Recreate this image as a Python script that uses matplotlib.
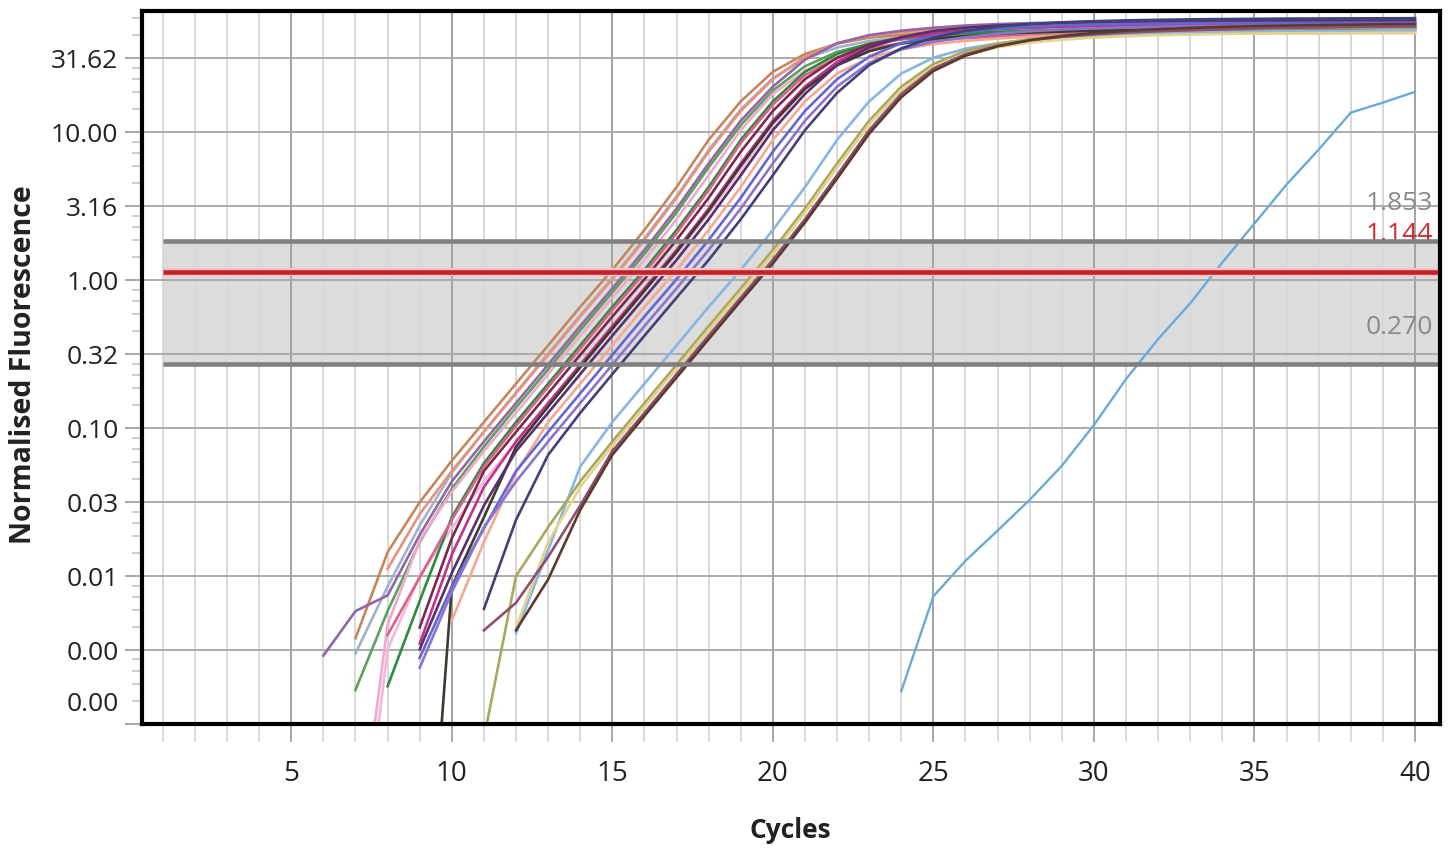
import numpy as np
import matplotlib
matplotlib.use("Agg")
import matplotlib.pyplot as plt
from matplotlib.ticker import FixedLocator, FuncFormatter

plt.rcParams['font.family'] = ['Open Sans', 'DejaVu Sans']

# ---- thresholds -----------------------------------------------------------
threshold = 1.144
band_low = 0.270
band_high = 1.853

# ---- normalised fluorescence per well: (first cycle, value per cycle) ------
well_01 = (7, [0.0038, 0.0145, 0.0316, 0.0603, 0.110, 0.200, 0.363, 0.661, 1.175, 2.19,
               4.27, 8.9, 16.2, 25.7, 33.9, 39.8, 43.7, 45.7, 47.9, 49.0, 50.1, 50.8,
               51.3, 51.7, 52.0, 52.3, 52.5, 52.7, 52.9, 53.0, 53.2, 53.3, 53.4, 53.5])
well_02 = (8, [0.0112, 0.0263, 0.0513, 0.0944, 0.172, 0.313, 0.569, 1.017, 1.873, 3.61,
               7.41, 13.96, 22.9, 32.5, 40.1, 44.8, 47.5, 49.7, 51.1, 52.3, 53.2, 53.8,
               54.3, 54.6, 54.9, 55.1, 55.3, 55.5, 55.6, 55.8, 55.9, 56.0, 56.1])
well_03 = (6, [0.0029, 0.0058, 0.0074, 0.019, 0.0437, 0.0813, 0.148, 0.269, 0.490, 0.881,
               1.603, 3.055, 6.17, 12.0, 20.4, 31.0, 40.0, 45.5, 48.7, 51.0, 52.8, 54.0,
               54.8, 55.4, 55.9, 56.3, 56.6, 56.9, 57.1, 57.3, 57.5, 57.6, 57.8, 57.9, 58.0])
well_04 = (7, [0.0017, 0.0058, 0.017, 0.039, 0.075, 0.138, 0.25, 0.46, 0.83, 1.51,
               2.87, 5.8, 11.2, 19.2, 28.0, 35.0, 39.7, 42.5, 44.3, 45.7, 46.8, 47.7,
               48.4, 49.0, 49.5, 49.9, 50.3, 50.6, 50.9, 51.2, 51.4, 51.6, 51.8, 52.0])
well_05 = (7, [0.0001, 0.0047, 0.0174, 0.0372, 0.070, 0.127, 0.232, 0.422, 0.763, 1.372,
               2.585, 5.13, 10.35, 18.2, 26.1, 31.8, 36.6, 39.8, 41.6, 43.3, 44.4, 45.0,
               45.4, 45.7, 46.0, 46.2, 46.4, 46.5, 46.6, 46.7, 46.8, 46.9, 47.0, 47.0])
well_06 = (8, [0.0018, 0.0068, 0.025, 0.058, 0.110, 0.200, 0.363, 0.661, 1.175, 2.19,
               4.27, 8.9, 16.2, 25.7, 33.9, 39.8, 43.7, 45.7, 47.0, 47.9, 48.6, 49.1,
               49.5, 49.8, 50.1, 50.3, 50.5, 50.6, 50.7, 50.8, 50.9, 51.0, 51.0])
well_07 = (8, [0.0040, 0.0098, 0.024, 0.055, 0.104, 0.190, 0.345, 0.63, 1.12, 2.08,
               4.06, 8.5, 15.4, 24.4, 31.8, 36.8, 40.1, 42.0, 43.4, 44.4, 45.2, 45.9,
               46.5, 47.0, 47.4, 47.7, 48.0, 48.3, 48.5, 48.7, 48.8, 48.9, 49.0])
well_08 = (9, [0.0045, 0.018, 0.0513, 0.0944, 0.172, 0.313, 0.569, 1.017, 1.873, 3.61,
               7.41, 13.96, 22.9, 32.0, 39.1, 43.8, 46.6, 48.7, 50.3, 51.4, 52.2, 52.8,
               53.3, 53.7, 54.0, 54.3, 54.5, 54.7, 54.8, 54.9, 55.0, 55.0])
well_09 = (9, [0.0035, 0.014, 0.040, 0.0813, 0.148, 0.269, 0.490, 0.881, 1.603, 3.055,
               6.17, 12.0, 20.4, 30.0, 37.8, 43.2, 46.4, 48.5, 50.2, 51.3, 52.0, 52.5,
               52.9, 53.2, 53.4, 53.6, 53.7, 53.8, 53.9, 54.0, 54.0, 54.1])
well_10 = (9, [0.00001, 0.0085, 0.025, 0.075, 0.140, 0.258, 0.470, 0.85, 1.55, 2.95,
               5.95, 11.6, 19.7, 28.4, 35.4, 40.0, 42.9, 44.8, 46.3, 47.3, 48.0, 48.6,
               49.0, 49.3, 49.6, 49.8, 49.9, 50.0, 50.1, 50.2, 50.2, 50.3])
well_11 = (9, [0.0032, 0.0105, 0.030, 0.070, 0.127, 0.232, 0.422, 0.763, 1.372, 2.585,
               5.13, 10.35, 18.2, 28.6, 37.6, 44.0, 48.5, 51.0, 52.8, 54.0, 54.8, 55.4,
               55.9, 56.2, 56.5, 56.7, 56.8, 56.9, 57.0, 57.0, 57.1, 57.1])
well_12 = (10, [0.0050, 0.017, 0.050, 0.110, 0.200, 0.363, 0.661, 1.175, 2.19, 4.27,
                8.9, 16.2, 25.0, 31.9, 36.5, 39.6, 41.6, 43.1, 44.3, 45.2, 45.9, 46.4,
                46.8, 47.1, 47.4, 47.6, 47.7, 47.8, 47.9, 48.0, 48.0])
well_13 = (9, [0.0028, 0.0085, 0.021, 0.0513, 0.0944, 0.172, 0.313, 0.569, 1.017, 1.873,
               3.61, 7.41, 13.96, 22.9, 32.5, 40.1, 44.8, 47.8, 50.2, 51.8, 52.9, 53.6,
               54.1, 54.4, 54.6, 54.8, 54.9, 55.0, 55.0, 55.1, 55.1, 55.2])
well_14 = (9, [0.0024, 0.0078, 0.0214, 0.0437, 0.0813, 0.148, 0.269, 0.490, 0.881, 1.603,
               3.055, 6.17, 12.0, 20.4, 29.5, 36.4, 41.0, 44.0, 46.5, 48.3, 49.6, 50.5,
               51.2, 51.7, 52.1, 52.4, 52.6, 52.8, 52.9, 53.0, 53.0, 53.1])
well_15 = (11, [0.0060, 0.024, 0.066, 0.127, 0.232, 0.422, 0.763, 1.372, 2.585, 5.13,
                10.35, 18.5, 28.5, 37.0, 43.8, 48.5, 51.8, 54.0, 55.5, 56.5, 57.2, 57.7,
                58.1, 58.4, 58.6, 58.8, 58.9, 59.0, 59.1, 59.2])
well_16 = (12, [0.0041, 0.0150, 0.055, 0.110, 0.200, 0.363, 0.661, 1.175, 2.19, 4.27,
                8.9, 16.2, 25.0, 32.0, 36.8, 40.0, 42.2, 43.8, 45.0, 45.9, 46.6, 47.2,
                47.7, 48.1, 48.4, 48.6, 48.8, 49.0, 49.1])
well_17 = (11, [0.0008, 0.0100, 0.0214, 0.0437, 0.0813, 0.148, 0.269, 0.490, 0.881, 1.603,
                3.055, 6.17, 12.0, 20.4, 29.0, 35.5, 39.8, 42.8, 44.9, 46.4, 47.6, 48.5,
                49.2, 49.7, 50.1, 50.4, 50.7, 50.9, 51.0, 51.1])
well_18 = (12, [0.0045, 0.0170, 0.040, 0.076, 0.139, 0.253, 0.46, 0.83, 1.51, 2.88,
                5.8, 11.3, 19.3, 27.6, 33.6, 37.6, 40.4, 42.3, 43.7, 44.7, 45.4, 45.9,
                46.3, 46.6, 46.8, 46.9, 47.0, 47.1, 47.1])
well_19 = (11, [0.0043, 0.0066, 0.0135, 0.030, 0.070, 0.127, 0.232, 0.422, 0.763, 1.372,
                2.585, 5.13, 10.35, 18.2, 27.0, 33.8, 38.5, 41.9, 44.3, 46.0, 47.3, 48.3,
                49.1, 49.8, 50.4, 50.9, 51.3, 51.6, 51.8, 52.0])
well_20 = (12, [0.0043, 0.0095, 0.028, 0.066, 0.121, 0.220, 0.40, 0.725, 1.30, 2.46,
                4.87, 9.8, 17.3, 26.0, 33.0, 38.2, 42.0, 44.9, 47.0, 48.6, 49.9, 50.9,
                51.7, 52.3, 52.8, 53.2, 53.5, 53.8, 54.0])
well_21 = (7, [0.00005, 0.0032, 0.0100, 0.021, 0.044, 0.080, 0.142, 0.258, 0.468, 0.84,
               1.51, 2.84, 5.6, 11.2, 19.5, 28.8, 35.5, 39.8, 42.6, 44.4, 45.7, 46.6,
               47.3, 47.8, 48.2, 48.5, 48.7, 48.9, 49.0, 49.1, 49.2, 49.3, 49.3, 49.4])
well_22 = (7, [0.0030, 0.0085, 0.022, 0.050, 0.095, 0.175, 0.32, 0.58, 1.04, 1.92,
               3.7, 7.6, 14.3, 23.3, 31.5, 37.5, 41.5, 44.0, 45.8, 47.2, 48.3, 49.1,
               49.7, 50.2, 50.6, 50.9, 51.2, 51.4, 51.6, 51.7, 51.8, 51.9, 52.0, 52.0])
late_well = (24, [0.00167, 0.0073, 0.0127, 0.0203, 0.0328, 0.0557, 0.105, 0.215, 0.40,
                  0.70, 1.32, 2.42, 4.44, 7.65, 13.6, 15.9, 18.8])

wells = [well_22, well_01, well_02, well_03, well_04, well_05, well_21, well_06, well_07,
         well_08, well_09, well_10, well_11, well_12, well_13, well_14, well_15,
         well_16, well_17, well_18, well_19, well_20]
well_colors = ['#9fb3cc', '#c4875c', '#e8907a', '#9366a6', '#5fa05f', '#f2a7d0', '#f7b6d8',
               '#2e8b3e', '#d9628a', '#7a2a4c', '#c3318c', '#3c3b2d', '#5b2f6e', '#f4a892',
               '#6466d4', '#8a74cc', '#3f4278', '#86b6e3', '#a9a85e', '#e3d48a', '#8e4f70',
               '#5c3a2e']
late_color = '#6aaad8'

x_major = [5, 10, 15, 20, 25, 30, 35, 40]
x_minor = list(range(1, 41))
y_major = [10 ** (k / 2) for k in range(-6, 4)]

# ---- figure ----------------------------------------------------------------
W, H = 1453, 852
fig = plt.figure(figsize=(W / 100, H / 100), dpi=100)
ax = fig.add_axes([142 / W, 1 - 724 / H, 1298 / W, 713 / H])
ax.set_yscale('log')
x_lo, x_hi = 0.35, 40.78
ax.set_xlim(x_lo, x_hi)
ax.set_ylim(1e-3, 66.2)

# threshold band and lines
ax.fill_between([1, x_hi], band_low, band_high, color='#dcdcdc', lw=0, zorder=1)
ax.hlines([band_low, band_high], 1, x_hi, colors='#808080', lw=3.3, zorder=3)
ax.hlines(threshold, 1, x_hi, colors='#f6c4c4', lw=6.0, zorder=3.1)
ax.hlines(threshold, 1, x_hi, colors='#c8202a', lw=3.3, zorder=3.2)

# amplification curves
for (first, vals), col in zip(wells, well_colors):
    cyc = np.arange(first, first + len(vals))
    ax.plot(cyc, vals, color=col, lw=1.9, zorder=2, solid_joinstyle='round')
first, vals = late_well
ax.plot(np.arange(first, first + len(vals)), vals, color=late_color, lw=1.7, zorder=2.5)

# threshold labels
ytr = ax.get_yaxis_transform()
for val, col in [(band_high, '#8a8a8a'), (threshold, '#cc2a30'), (band_low, '#8a8a8a')]:
    ax.annotate(f'{val:.3f}', xy=(1, val), xycoords=ytr, xytext=(-5, 26.5),
                textcoords='offset points', ha='right', va='center',
                fontsize=19, color=col, zorder=2.8)

# ticks and grid
ax.xaxis.set_major_locator(FixedLocator(x_major))
ax.xaxis.set_minor_locator(FixedLocator(x_minor))
ax.yaxis.set_major_locator(FixedLocator(y_major))
y_minor = []
for a, b in zip(y_major + [100.0], (y_major + [100.0, 316.2])[1:]):
    y_minor += [a + i * (b - a) / 5 for i in range(1, 5)]
ax.yaxis.set_minor_locator(FixedLocator(y_minor))
ax.yaxis.set_major_formatter(FuncFormatter(lambda v, p: '' if v < 0.002 else f'{v:.2f}'))
ax.yaxis.set_minor_formatter(FuncFormatter(lambda v, p: ''))

ax.grid(which='major', axis='x', color='#a3a3a3', lw=1.4)
ax.grid(which='minor', axis='x', color='#d8d8d8', lw=1.4)
ax.grid(which='major', axis='y', color='#ababab', lw=1.4)

ax.tick_params(axis='x', which='major', length=13, width=1.3, color='#a3a3a3',
               pad=13, labelsize=20, labelcolor='#222222')
ax.tick_params(axis='x', which='minor', length=13, width=1.3, color='#d8d8d8')
ax.tick_params(axis='y', which='major', length=12, width=1.3, color='#a0a0a0',
               pad=5, labelsize=19, labelcolor='#222222')
ax.tick_params(axis='y', which='minor', length=7, width=1.2, color='#c4c4c4')

# bottom label sits just above the axis corner
ax.annotate('0.00', xy=(0, 1e-3), xycoords=ytr, xytext=(-17, 14),
            textcoords='offset points', ha='right', va='center',
            fontsize=19, color='#222222', annotation_clip=False)

for s in ax.spines.values():
    s.set_linewidth(3)
    s.set_color('black')
    s.set_zorder(5)

fig.text(790 / W, 1 - 830 / H, 'Cycles', ha='center', va='center',
         fontsize=19, fontweight='bold', color='#222222')
fig.text(24 / W, 1 - 365 / H, 'Normalised Fluorescence', ha='center', va='center',
         rotation=90, fontsize=20.5, fontweight='bold', color='#222222')

fig.savefig('out.png', dpi=100)
